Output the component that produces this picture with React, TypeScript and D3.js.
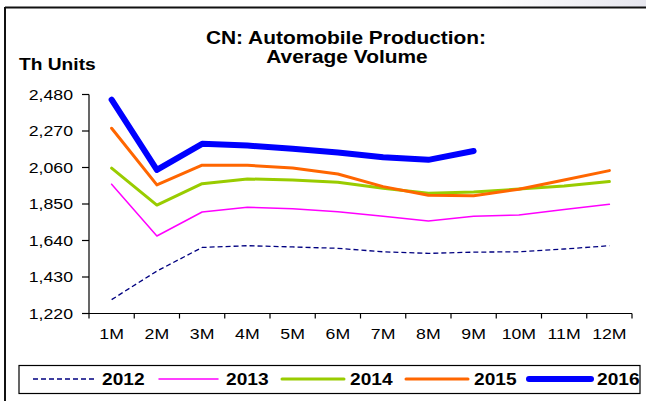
import React from 'react';
import * as d3 from 'd3';

// month categories and series (thousand units, average volume)
const months = ['1M', '2M', '3M', '4M', '5M', '6M', '7M', '8M', '9M', '10M', '11M', '12M'];
const yTicks = [1220, 1430, 1640, 1850, 2060, 2270, 2480];

const v2012 = [1300, 1464, 1600, 1610, 1603, 1595, 1575, 1566, 1573, 1575, 1591, 1610];
const v2013 = [1964, 1666, 1804, 1831, 1823, 1806, 1779, 1752, 1779, 1787, 1819, 1848];
const v2014 = [2056, 1844, 1967, 1994, 1988, 1975, 1940, 1912, 1919, 1936, 1954, 1979];
const v2015 = [2286, 1960, 2073, 2073, 2057, 2023, 1950, 1900, 1898, 1935, 1988, 2042];
const v2016 = [2450, 2046, 2196, 2186, 2168, 2146, 2119, 2104, 2155];

const series = [
  { name: '2012', values: v2012, color: '#000080', width: 1.3, dash: '5,3' },
  { name: '2013', values: v2013, color: '#FF00FF', width: 1.5, dash: null },
  { name: '2014', values: v2014, color: '#99CC00', width: 3, dash: null },
  { name: '2015', values: v2015, color: '#FF6600', width: 3, dash: null },
  { name: '2016', values: v2016, color: '#0000FF', width: 6, dash: null },
];

const W = 646;
const H = 401;
const left = 89;
const right = 632;
const top = 94.5;
const bottom = 313.5;
const font = 'Arial, "Liberation Sans", sans-serif';

// text drawn slightly stretched sideways, like the source image
function T({ x, y, size, bold = false, anchor = 'start', sx = 1.15, children }: any) {
  return (
    <text
      transform={`translate(${x},${y}) scale(${sx},1)`}
      textAnchor={anchor}
      dy="0.35em"
      fontFamily={font}
      fontWeight={bold ? 'bold' : 'normal'}
      fontSize={size}
    >
      {children}
    </text>
  );
}

export default function App() {
  const x = d3.scaleBand<string>().domain(months).range([left, right]);
  const y = d3.scaleLinear().domain([1220, 2480]).range([bottom, top]);
  const fmt = d3.format(',');

  const line = d3
    .line<number>()
    .x((_, i) => (x(months[i]) as number) + x.bandwidth() / 2)
    .y(d => y(d));

  // legend layout (line start, line end, text x)
  const legendPos = [
    [33, 94, 102],
    [159, 218, 226],
    [282, 344, 350],
    [406, 468, 474],
    [529, 591, 597],
  ];
  const legendY = 379;

  return (
    <svg width={W} height={H} style={{ position: 'absolute', left: 0, top: 0, background: '#fff' }}>
      <defs>
        <linearGradient id="topfade" x1="0" x2="1" y1="0" y2="0">
          <stop offset="0.75" stopColor="#ffffff" />
          <stop offset="1" stopColor="#e6e6ee" />
        </linearGradient>
      </defs>
      <rect x={0} y={0} width={W} height={7} fill="url(#topfade)" />
      {/* outer frame */}
      <line x1={5} x2={W} y1={7.5} y2={7.5} stroke="#111" strokeWidth={2} />
      <line x1={5} x2={5} y1={7} y2={H} stroke="#111" strokeWidth={2} />

      <T x={346} y={37} size={19} bold anchor="middle" sx={1.1}>
        CN: Automobile Production:
      </T>
      <T x={347} y={56} size={19} bold anchor="middle" sx={1.1}>
        Average Volume
      </T>
      <T x={19} y={64} size={16} bold sx={1.2}>
        Th Units
      </T>

      {/* y axis */}
      <line x1={left} x2={left} y1={top} y2={bottom} stroke="#000" strokeWidth={1.2} />
      {yTicks.map(t => (
        <g key={t}>
          <line x1={left - 7} x2={left} y1={y(t)} y2={y(t)} stroke="#000" strokeWidth={1.2} />
          <T x={73} y={y(t)} size={15.5} anchor="end" sx={1.14}>
            {fmt(t)}
          </T>
        </g>
      ))}

      {/* x axis */}
      <line x1={left} x2={right} y1={bottom} y2={bottom} stroke="#000" strokeWidth={1.2} />
      {months.map(m => (
        <line key={'t' + m} x1={x(m)} x2={x(m)} y1={bottom} y2={bottom + 5} stroke="#000" strokeWidth={1.2} />
      ))}
      <line x1={right} x2={right} y1={bottom} y2={bottom + 5} stroke="#000" strokeWidth={1.2} />
      {months.map(m => (
        <T key={m} x={(x(m) as number) + x.bandwidth() / 2} y={334} size={15.5} anchor="middle" sx={1.14}>
          {m}
        </T>
      ))}

      {/* series */}
      {series.map(s => (
        <path
          key={s.name}
          d={line(s.values) as string}
          fill="none"
          stroke={s.color}
          strokeWidth={s.width}
          strokeDasharray={s.dash ?? undefined}
          strokeLinejoin="round"
          strokeLinecap={s.dash ? 'butt' : 'round'}
        />
      ))}

      {/* legend */}
      <rect x={19} y={365.5} width={621} height={28} fill="none" stroke="#000" strokeWidth={1.2} />
      {series.map((s, i) => (
        <g key={'lg' + s.name}>
          <line
            x1={legendPos[i][0]}
            x2={legendPos[i][1]}
            y1={legendY}
            y2={legendY}
            stroke={s.color}
            strokeWidth={s.width}
            strokeDasharray={s.dash ?? undefined}
            strokeLinecap={s.dash ? 'butt' : 'round'}
          />
          <T x={legendPos[i][2]} y={legendY} size={16.5} bold sx={1.16}>
            {s.name}
          </T>
        </g>
      ))}
    </svg>
  );
}
